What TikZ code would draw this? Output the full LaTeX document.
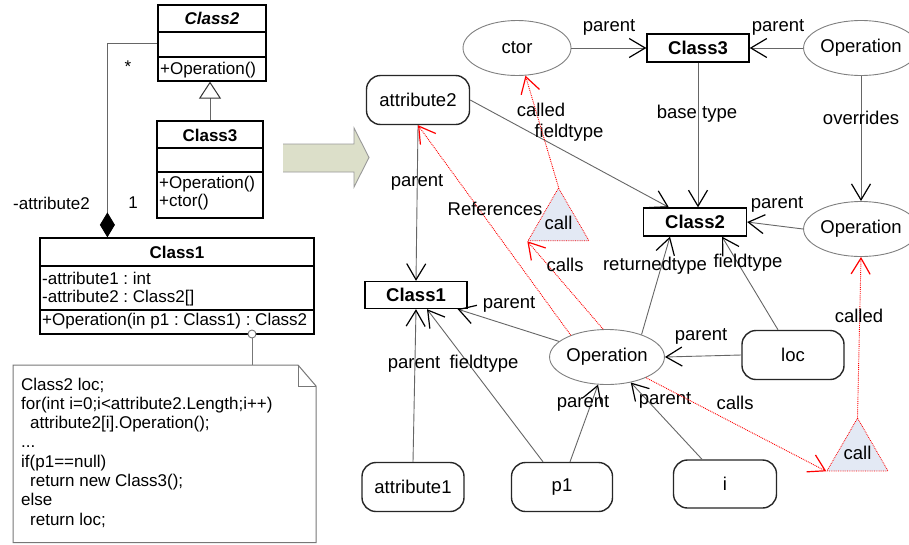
\documentclass[tikz,border=0pt]{standalone}
\usepackage{fontspec}
\setmainfont{Liberation Sans}
\usetikzlibrary{arrows.meta,shapes.geometric}
\definecolor{edgegray}{HTML}{666666}
\definecolor{ellgray}{HTML}{808080}
\definecolor{trifill}{HTML}{E3E9F4}
\definecolor{bigarrow}{HTML}{DCDFC9}
\definecolor{notegray}{HTML}{777777}
\frenchspacing
\begin{document}
\begin{tikzpicture}[x=1pt,y=-1pt,
  lab/.style={font=\fontsize{18.5}{20}\selectfont,inner sep=0pt},
  ulab/.style={font=\fontsize{17}{19}\selectfont,inner sep=0pt},
  typebox/.style={rectangle,draw=black,line width=1.3pt,minimum width=102pt,minimum height=28pt,inner sep=0pt,font=\fontsize{18.5}{20}\selectfont\bfseries},
  elli/.style={ellipse,draw=ellgray,line width=0.9pt,minimum width=108pt,minimum height=55pt,inner sep=0pt,font=\fontsize{18.5}{20}\selectfont},
  varbox/.style={rectangle,rounded corners=14pt,draw=black!85,line width=1.4pt,minimum width=102pt,minimum height=49pt,inner sep=0pt,font=\fontsize{18.5}{20}\selectfont},
  calltri/.style={regular polygon,regular polygon sides=3,minimum size=70.4pt,inner sep=0pt,draw=red,densely dotted,line width=0.8pt,fill=trifill},
  rel/.style={draw=edgegray,line width=0.9pt,-{Straight Barb[length=16pt,width=19pt,line width=1.2pt,color=black]}},
  callrel/.style={draw=red,densely dotted,line width=0.9pt,-{Straight Barb[length=16pt,width=19pt,line width=1.2pt,color=red]}},
  umlbox/.style={rectangle,draw=black,line width=1.2pt,inner sep=0pt},
  umlsep/.style={draw=black,line width=1.2pt},
  gen/.style={draw=edgegray,line width=0.9pt,-{Triangle[open,length=17pt,width=22pt,line width=1pt,color=black!80,fill=white]}},
  assoc/.style={draw=edgegray,line width=0.9pt,{Diamond[length=25pt,width=15pt,color=black]}-}
]
\useasboundingbox (0,0) rectangle (909,544);
\fill[white] (0,0) rectangle (909,544);

% ---------------- left UML ----------------
\node[umlbox,minimum width=108pt,minimum height=76pt] (U2) at (212,43) {};
\draw[umlsep] (158,32) -- (266,32) (158,57) -- (266,57);
\node[ulab,font=\fontsize{17}{19}\selectfont\bfseries\itshape] (U2name) at (212,18) {Class2};
\node[ulab,anchor=west] (U2op) at (160,70) {+Operation()};

\node[umlbox,minimum width=106pt,minimum height=97pt] (U3) at (210,169.5) {};
\draw[umlsep] (157,148) -- (263,148) (157,172) -- (263,172);
\node[ulab,font=\fontsize{17}{19}\selectfont\bfseries] (U3name) at (210,135) {Class3};
\node[ulab,anchor=west] (U3op) at (159,184) {+Operation()};
\node[ulab,anchor=west] (U3ctor) at (159,202) {+ctor()};

\node[umlbox,minimum width=274pt,minimum height=96pt] (U1) at (177,286) {};
\draw[umlsep] (40,266) -- (314,266) (40,310) -- (314,310);
\node[ulab,font=\fontsize{17}{19}\selectfont\bfseries] (U1name) at (177,252) {Class1};
\node[ulab,anchor=west] (U1a1) at (42,278) {-attribute1 : int};
\node[ulab,anchor=west] (U1a2) at (42,298) {-attribute2 : Class2[]};
\node[ulab,anchor=west] (U1op) at (42,321) {+Operation(in p1 : Class1) : Class2};

\draw[gen] (U3.north) -- (U3.north |- U2.south);
\draw[assoc] ([xshift=68pt]U1.north west) |- (U2.west);
\node[ulab] (mstar) at (128,67) {*};
\node[ulab] (mrole) at (51.5,203) {-attribute2};
\node[ulab] (mone) at (133,203) {1};

% note
\draw[notegray,line width=1pt,fill=white] (13,365) -- (298,365) -- (316,386) -- (316,542.5) -- (13,542.5) -- cycle;
\draw[notegray,line width=1pt] (298,365) -- (298,386) -- (316,386);
\coordinate (notetop) at (252,365);
\draw[notegray,line width=1pt] (252,338) -- (notetop);
\node[circle,draw=notegray,fill=white,line width=0.9pt,minimum size=8pt,inner sep=0pt] (pin) at (252,334) {};
\node[ulab,anchor=base west] (n0) at (21,390) {Class2 loc;};
\node[ulab,anchor=base west] (n1) at (21,409.3) {for(int i=0;i<attribute2.Length;i++)};
\node[ulab,anchor=base west] (n2) at (30,428.6) {attribute2[i].Operation();};
\node[ulab,anchor=base west] (n3) at (21,447.9) {...};
\node[ulab,anchor=base west] (n4) at (21,467.2) {if(p1==null)};
\node[ulab,anchor=base west] (n5) at (30,486.5) {return new Class3();};
\node[ulab,anchor=base west] (n6) at (21,505.8) {else};
\node[ulab,anchor=base west] (n7) at (30,525.1) {return loc;};

% big arrow
\fill[bigarrow] (283,144) -- (354,144) -- (354,128) -- (369,157.5) -- (354,187) -- (354,172) -- (283,172) -- cycle;
\draw[draw=gray!80,line width=0.9pt] (283,144) -- (354,144) -- (354,128) -- (369,157.5) -- (354,187) -- (354,172) -- (283,172);

% ---------------- right graph ----------------
\node[elli] (ctor) at (517,48) {ctor};
\node[typebox] (C3) at (698,48) {Class3};
\node[elli,minimum width=106pt] (OpT) at (861,48) {Operation};
\node[elli,minimum width=106pt] (OpM) at (861,229) {Operation};
\node[typebox,minimum width=103pt] (C2) at (695,222) {Class2};
\node[varbox,minimum width=103pt] (att2) at (418,100) {attribute2};
\node[typebox,minimum height=27pt] (C1) at (416,295) {Class1};
\node[elli] (OpC) at (607,357) {Operation};
\node[varbox] (loc) at (793,355) {loc};
\node[varbox] (att1) at (413,487) {attribute1};
\node[varbox,minimum width=101pt] (p1) at (562,487) {p1};
\node[varbox,minimum width=103pt,minimum height=48pt] (i) at (725,484) {i};
\node[calltri,label={[lab]center:call}] (call1) at (558.5,223.2) {};
\node[calltri,label={[lab]center:call}] (call2) at (857.5,453.3) {};

\draw[rel] (ctor.east) -- (C3.west) node[lab] at (609,27) {parent};
\draw[rel] (OpT.west) -- (C3.east) node[lab] at (778,27) {parent};
\draw[rel] (C3.south) -- (C3.south |- C2.north) node[lab] at (697,114) {base type};
\draw[rel] (OpT.south) -- (OpM.north) node[lab] at (861,118) {overrides};
\draw[rel] (OpM.west) -- (C2.east) node[lab] at (777,204) {parent};
\draw[rel] (att2.east) -- ([xshift=26pt]C2.north west) node[lab] at (569,133) {fieldtype};
\draw[rel] (att2.south) -- (C1.north) node[lab] at (417,182) {parent};
\draw[rel] (OpC.162) -- ([xshift=-10pt]C1.south east) node[lab] at (509,304) {parent};
\draw[rel] (att1.north) -- (C1.south) node[lab] at (414,364) {parent};
\draw[rel] ([xshift=-19pt]p1.north) -- ([xshift=11pt]C1.south) node[lab] at (484,364) {fieldtype};
\draw[rel] ([xshift=8pt]p1.north) -- (OpC.-108) node[lab] at (583,403) {parent};
\draw[rel] ([xshift=-23pt]i.north) -- (OpC.-47) node[lab] at (665,400) {parent};
\draw[rel] (loc.west) -- (OpC.east) node[lab] at (701,336) {parent};
\draw[rel] ([xshift=-15pt]loc.north) -- ([xshift=27pt]C2.south) node[lab] at (748,263) {fieldtype};
\draw[rel] (OpC.33) -- ([xshift=-25pt]C2.south) node[lab] at (655,266) {returnedtype};

\draw[callrel] (call1.corner 1) -- (ctor.-73.5) node[lab] at (541,110) {called};
\draw[callrel] (OpC.98) -- (call1.corner 2) node[lab] at (565,265) {calls};
\draw[callrel] (OpC.149) -- (att2.south) node[lab] at (495,209) {References};
\draw[callrel] (OpC.-28) -- (call2.corner 2) node[lab] at (735,403) {calls};
\draw[callrel] (call2.corner 1) -- (OpM.south) node[lab] at (859,316) {called};
\end{tikzpicture}
\end{document}
